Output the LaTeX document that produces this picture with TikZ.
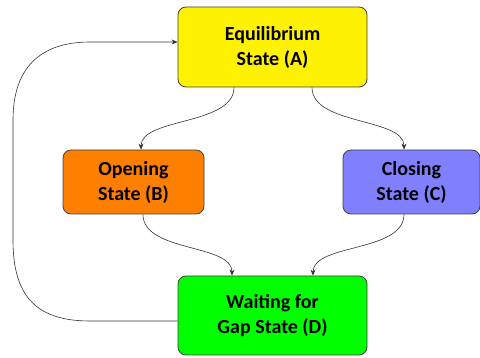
\documentclass[tikz,border=0pt]{standalone}
\usepackage{fontspec}
\setmainfont{Carlito}
\usetikzlibrary{arrows.meta}
\begin{document}
\begin{tikzpicture}[x=1pt,y=-1pt,
  state/.style={draw=black!75,line width=0.8pt,rounded corners=8pt,align=center,
    font=\fontsize{20}{25}\selectfont\bfseries,inner sep=0pt},
  link/.style={draw=black!80,line width=0.6pt,-{Stealth[length=6pt,width=5pt]}}]
\useasboundingbox (0,0) rectangle (480,358);
\node[state,fill=yellow,minimum width=189pt,minimum height=80pt] (A) at (272.5,47) {Equilibrium\\State (A)};
\node[state,fill={rgb,255:red,255;green,128;blue,0},minimum width=141pt,minimum height=64pt] (B) at (133.5,182) {Opening\\State (B)};
\node[state,fill={rgb,255:red,128;green,128;blue,255},minimum width=137pt,minimum height=64pt] (C) at (411.5,182) {Closing\\State (C)};
\node[state,fill={rgb,255:red,0;green,255;blue,0},minimum width=189pt,minimum height=79pt] (D) at (272.5,315.5) {Waiting for\\Gap State (D)};
\coordinate (a1) at ([xshift=-38.5pt]A.south);
\coordinate (a2) at ([xshift=39.5pt]A.south);
\coordinate (b1) at ([xshift=7.5pt]B.north);
\coordinate (b2) at ([xshift=9.5pt]B.south);
\coordinate (c1) at ([xshift=-7.5pt]C.north);
\coordinate (c2) at ([xshift=-7.5pt]C.south);
\coordinate (d1) at ([xshift=-40.5pt]D.north);
\coordinate (d2) at ([xshift=40.5pt]D.north);
\draw[link] (a1) .. controls +(0,38) and +(0,-32) .. (b1);
\draw[link] (a2) .. controls +(0,38) and +(0,-32) .. (c1);
\draw[link] (b2) .. controls +(0,38) and +(0,-32) .. (d1);
\draw[link] (c2) .. controls +(0,38) and +(0,-32) .. (d2);
\coordinate (dl) at (D.west |- 0,321);
\coordinate (al) at (A.west |- 0,42);
\draw[link] (dl) -- (90,321) .. controls (35,321) and (13,295) .. (13,240) -- (13,120) .. controls (13,68) and (40,42) .. (90,42) -- (al);
\end{tikzpicture}
\end{document}
